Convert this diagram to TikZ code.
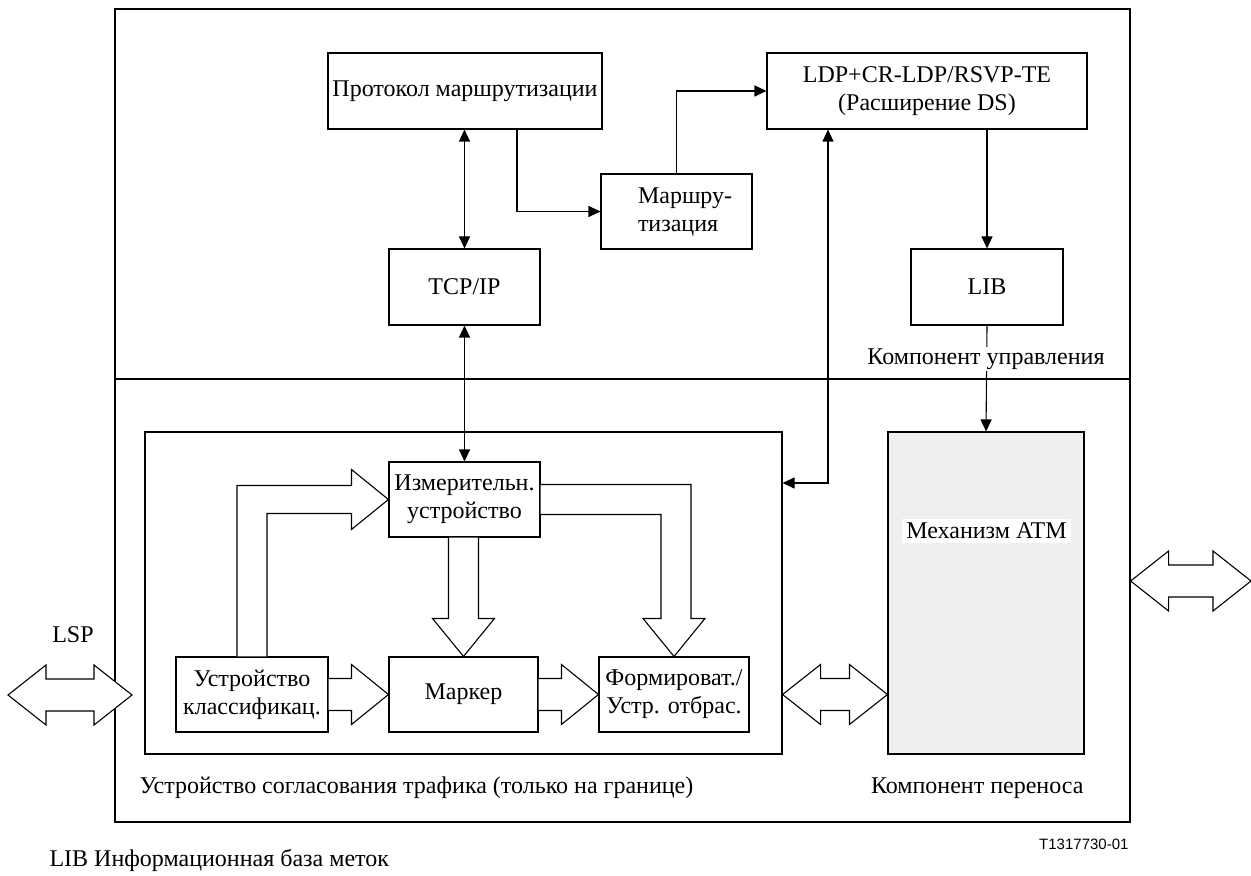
\documentclass[tikz,border=0pt]{standalone}
\usepackage{fontspec}
\setmainfont{Liberation Serif}
\newfontfamily\figidfont{Liberation Sans}
\usetikzlibrary{arrows.meta,calc}
\definecolor{atmgray}{RGB}{239,239,239}

% double-headed hollow arrow between two points on one level
\newcommand\dblhollow[2]{%
  \draw[hollow] let \p1=(#1),\p2=(#2) in
    (\x1,\y1) -- (\x1+19pt,\y1+15pt) -- (\x1+19pt,\y1+8pt) -- (\x2-19pt,\y1+8pt)
    -- (\x2-19pt,\y1+15pt) -- (\x2,\y1) -- (\x2-19pt,\y1-15pt) -- (\x2-19pt,\y1-8pt)
    -- (\x1+19pt,\y1-8pt) -- (\x1+19pt,\y1-15pt) -- cycle;}
% hollow arrow from the east side of #1 to the west side of #2
\newcommand\hollowright[2]{%
  \draw[hollow] let \p1=(#1.east),\p2=(#2.west) in
    (\x1,\y2+8pt) -- (\x2-18.5pt,\y2+8pt) -- (\x2-18.5pt,\y2+15pt) -- (\x2,\y2)
    -- (\x2-18.5pt,\y2-15pt) -- (\x2-18.5pt,\y2-8pt) -- (\x1,\y2-8pt);}

\begin{document}
\begin{tikzpicture}[x=0.5pt,y=-0.5pt,
  line width=0.55pt,
  txt/.style={font=\fontsize{12pt}{14pt}\selectfont, align=center},
  box/.style={txt, draw, rectangle, inner sep=0pt},
  hollow/.style={draw, fill=white, line width=0.55pt, line join=miter},
  arr/.style={-{Triangle[length=6pt,width=5.5pt]}},
  darr/.style={{Triangle[length=6pt,width=5.5pt]}-{Triangle[length=6pt,width=5.5pt]}}]

\useasboundingbox (0,0) rectangle (1251,876);

% frame of the whole equipment and the control / transfer split
\node[draw, rectangle, minimum width=507.5pt, minimum height=406.5pt, line width=0.6pt] (outer) at (622.5,415.5) {};
\draw[line width=0.6pt] (outer.west |- 0,379) -- (outer.east |- 0,379);

% control component
\node[box, minimum width=137pt, minimum height=38pt] (proto) at (465,91) {Протокол маршрутизации};
\node[box, minimum width=75.5pt, minimum height=38pt] (tcp) at (464.5,287) {TCP/IP};
\node[box, minimum width=75.5pt, minimum height=37.5pt] (route) at (676.5,211.5) {};
\node[txt, anchor=west, align=left, inner sep=0pt] (routetxt) at ([xshift=18.5pt]route.west) {Маршру-\\тизация};
\node[box, minimum width=160pt, minimum height=38pt] (ldp) at (927,91) {LDP+CR-LDP/RSVP-TE\\(Расширение DS)};
\node[box, minimum width=76pt, minimum height=38pt] (lib) at (987,287) {LIB};

% transfer component
\node[draw, rectangle, fill=atmgray, minimum width=98pt, minimum height=161pt] (atm) at (986,593) {};
\node[txt, fill=white, inner sep=2pt] (atmlabel) at (986.5,531) {Механизм ATM};

% traffic conditioner
\node[draw, rectangle, minimum width=318.5pt, minimum height=161pt] (inner) at (463.5,593) {};
\node[box, minimum width=75.5pt, minimum height=37.5pt] (meter) at (464.5,499.5) {Измерительн.\\устройство};
\node[box, minimum width=76pt, minimum height=37.5pt] (cls) at (252,694.5) {Устройство\\классификац.};
\node[box, minimum width=74.5pt, minimum height=37.5pt] (mark) at (463.5,694.5) {Маркер};
\node[box, minimum width=75pt, minimum height=37.5pt] (shape) at (674,694.5) {Формироват./\\Устр. отбрас.};

% signalling connectors
\draw[darr] (tcp.north) -- (tcp.north |- proto.south);
\draw[arr] ([xshift=26pt]proto.south) |- (route.west);
\draw[arr] (route.north) |- (ldp.west);
\draw[arr] (ldp.south -| lib.north) -- (lib.north);
\draw[arr] (lib.south) -- (atm.north);
\node[txt, fill=white, inner sep=1pt] (ctrl) at (986,359) {Компонент управления};
\coordinate (ldpturn) at (828,483);
\draw[darr] (ldpturn |- ldp.south) -- (ldpturn) -- (ldpturn -| inner.east);
\draw[darr] (tcp.south) -- (tcp.south |- meter.north);

% data flow inside the conditioner
\draw[hollow] let \p1=(cls.north),\p2=(meter.west) in
  (\x1-7.5pt,\y1) -- (\x1-7.5pt,\y2+7pt) -- (\x2-18.5pt,\y2+7pt) -- (\x2-18.5pt,\y2+15pt)
  -- (\x2,\y2) -- (\x2-18.5pt,\y2-15pt) -- (\x2-18.5pt,\y2-7pt) -- (\x1+7.5pt,\y2-7pt) -- (\x1+7.5pt,\y1);
\draw[hollow] let \p1=(meter.east),\p2=(shape.north) in
  (\x1,\y1+7.5pt) -- (\x2+8.5pt,\y1+7.5pt) -- (\x2+8.5pt,\y2+19pt) -- (\x2+15.5pt,\y2+19pt)
  -- (\x2,\y2) -- (\x2-15.5pt,\y2+19pt) -- (\x2-6.5pt,\y2+19pt) -- (\x2-6.5pt,\y1-7.5pt) -- (\x1,\y1-7.5pt);
\draw[hollow] let \p1=(meter.south),\p2=(mark.north) in
  (\x2-7.5pt,\y1) -- (\x2-7.5pt,\y2+19pt) -- (\x2-15.5pt,\y2+19pt) -- (\x2,\y2)
  -- (\x2+15.5pt,\y2+19pt) -- (\x2+7.5pt,\y2+19pt) -- (\x2+7.5pt,\y1);
\hollowright{cls}{mark}
\hollowright{mark}{shape}

% label switched path interfaces
\coordinate (lspL) at (8,695);
\coordinate (lspR) at (132,695);
\dblhollow{lspL}{lspR}
\node[txt] (lsp) at (73,635) {LSP};
\dblhollow{inner.east |- shape.east}{atm.west |- shape.east}
\coordinate (extL) at (outer.east |- 0,581);
\coordinate (extR) at (1251,581);
\dblhollow{extL}{extR}

% captions
\node[txt, anchor=west, inner sep=0pt] (tcname) at (139,788) {Устройство согласования трафика (только на границе)};
\node[txt, anchor=east, inner sep=0pt] (trname) at (1084,788) {Компонент переноса};
\node[anchor=east, inner sep=0pt, font=\figidfont\fontsize{7.5pt}{9pt}\selectfont] (figid) at (1129,844) {T1317730-01};
\node[txt, anchor=west, inner sep=0pt] (legend) at (49,860) {LIB Информационная база меток};
\end{tikzpicture}
\end{document}
